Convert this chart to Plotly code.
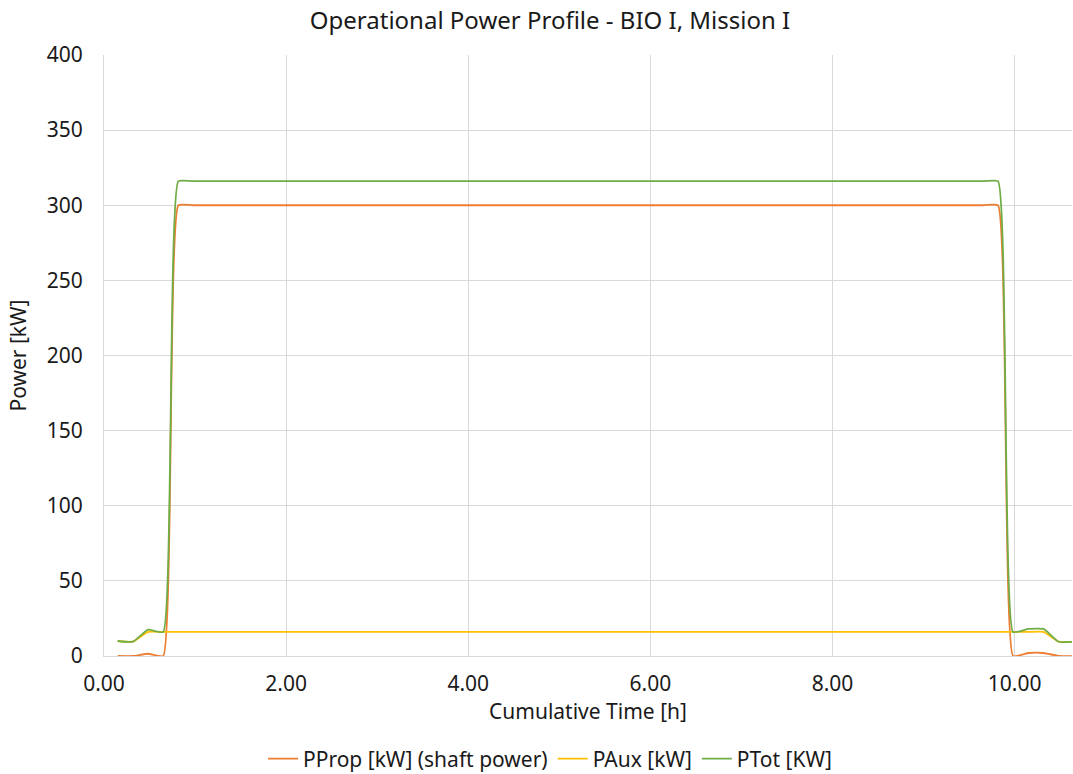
import plotly.graph_objects as go

# Cumulative time [h] of the logged samples
time_h = [0.15, 0.317, 0.483, 0.65, 0.817, 0.983, 9.65, 9.817, 9.983, 10.15, 10.317, 10.483, 10.65]

# Power series [kW]
p_prop = [0.0, 0.0, 1.5, 0.0, 300.0, 300.0, 300.0, 300.0, 0.0, 2.0, 2.0, 0.0, 0.0]
p_aux = [10.0, 9.5, 16.0, 16.0, 16.0, 16.0, 16.0, 16.0, 16.0, 16.0, 16.0, 9.5, 9.5]
p_tot = [a + b for a, b in zip(p_prop, p_aux)]

series = [
    ("PProp [kW] (shaft power)", p_prop, "#ED7D31"),
    ("PAux [kW]", p_aux, "#FFC000"),
    ("PTot [KW]", p_tot, "#70AD47"),
]

x_ticks = [0, 2, 4, 6, 8, 10]
y_ticks = [0, 50, 100, 150, 200, 250, 300, 350, 400]

FONT = "Noto Sans"
GRID = "#D9D9D9"
TXT = "#1A1A1A"

fig = go.Figure()
for name, values, color in series:
    fig.add_trace(go.Scatter(
        x=time_h, y=values, name=name, mode="lines",
        line=dict(color=color, width=1.8, shape="spline", smoothing=0.4),
    ))

fig.update_layout(
    width=1073, height=774,
    paper_bgcolor="white", plot_bgcolor="white",
    margin=dict(l=104, r=1, t=55, b=118),
    font=dict(family=FONT, size=21, color=TXT),
    title=dict(text="Operational Power Profile - BIO I, Mission I",
               x=550 / 1073, xanchor="center", xref="container",
               y=1 - 21 / 774, yanchor="middle", yref="container",
               font=dict(family=FONT, size=24, color=TXT)),
    showlegend=True,
    legend=dict(orientation="h", x=550 / 1073, xanchor="center", xref="container",
                y=1 - 759 / 774, yanchor="middle", yref="container",
                font=dict(family=FONT, size=21, color=TXT),
                itemwidth=30, tracegroupgap=0),
)

fig.update_xaxes(
    range=[0, 10.63], tickvals=x_ticks,
    ticktext=[f"{v:.2f}" for v in x_ticks],
    showgrid=True, gridcolor=GRID, gridwidth=1,
    showline=True, linecolor=GRID, linewidth=1,
    zeroline=False, ticks="", automargin=False, ticklabelstandoff=9,
    title=dict(text="Cumulative Time [h]", standoff=6, font=dict(size=21)),
)
fig.update_yaxes(
    range=[0, 400], tickvals=y_ticks,
    showgrid=True, gridcolor=GRID, gridwidth=1,
    showline=True, linecolor=GRID, linewidth=1,
    zeroline=False, ticks="", automargin=False, ticklabelstandoff=16,
    title=dict(text="Power [kW]", standoff=14, font=dict(size=21)),
)

fig.write_html("out.html")
